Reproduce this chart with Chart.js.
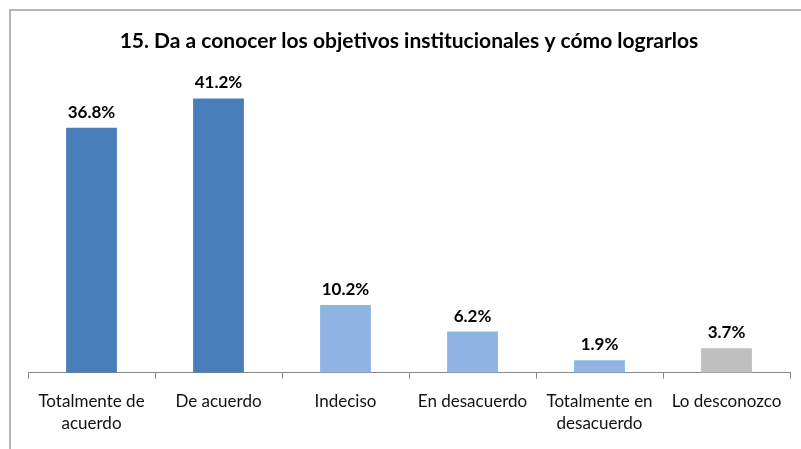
<!DOCTYPE html>
<html>
<head>
<meta charset="utf-8">
<script src="https://cdn.jsdelivr.net/npm/chart.js@4/dist/chart.umd.min.js"></script>
<style>
  html, body { margin: 0; padding: 0; background: #fff; }
  #wrap { position: relative; width: 801px; height: 449px; }
  #frame { position: absolute; left: 9px; top: 9px; right: 0; bottom: 0; border-left: 2px solid #b4b4b4; border-top: 2px solid #b4b4b4; pointer-events: none; }
  canvas { position: absolute; left: 0; top: 0; }
</style>
</head>
<body>
<div id="wrap">
  <canvas id="c" width="801" height="449"></canvas>
  <div id="frame"></div>
</div>
<script>
const titleText = "15. Da a conocer los objetivos institucionales y cómo lograrlos";
const categories = [
  ["Totalmente de", "acuerdo"],
  "De acuerdo",
  "Indeciso",
  "En desacuerdo",
  ["Totalmente en", "desacuerdo"],
  "Lo desconozco"
];
const values = [36.8, 41.2, 10.2, 6.2, 1.9, 3.7];
const barColors = ["#4a7ebb", "#4a7ebb", "#8db4e2", "#8db4e2", "#8db4e2", "#bfbfbf"];

const FONT = "Lato, 'Open Sans', sans-serif";

const valueLabels = {
  id: "valueLabels",
  afterDatasetsDraw(chart) {
    const ctx = chart.ctx;
    const meta = chart.getDatasetMeta(0);
    ctx.save();
    ctx.font = "bold 17px " + FONT;
    ctx.fillStyle = "#000";
    ctx.textAlign = "center";
    ctx.textBaseline = "bottom";
    meta.data.forEach((bar, i) => {
      ctx.fillText(values[i].toFixed(1) + "%", bar.x, bar.y - 7);
    });
    ctx.restore();
  }
};

new Chart(document.getElementById("c"), {
  type: "bar",
  data: {
    labels: categories,
    datasets: [{
      data: values,
      backgroundColor: barColors,
      borderWidth: 0,
      barPercentage: 0.8,
      categoryPercentage: 0.5
    }]
  },
  options: {
    responsive: false,
    animation: false,
    layout: { padding: { left: 28, right: 11, top: 0, bottom: 2 } },
    plugins: {
      legend: { display: false },
      tooltip: { enabled: false },
      title: {
        display: true,
        text: titleText,
        color: "#000",
        font: { family: FONT, size: 21, weight: "bold" },
        padding: { top: 29, bottom: 19 }
      }
    },
    scales: {
      y: {
        display: false,
        min: 0,
        max: 45
      },
      x: {
        offset: true,
        grid: {
          display: true,
          offset: true,
          drawOnChartArea: false,
          drawTicks: true,
          tickLength: 6,
          color: "#888"
        },
        border: { display: true, color: "#888", width: 1 },
        ticks: {
          color: "#111",
          padding: 12,
          maxRotation: 0,
          autoSkip: false,
          font: { family: FONT, size: 17, lineHeight: 1.3 }
        }
      }
    }
  },
  plugins: [valueLabels]
});
</script>
</body>
</html>
